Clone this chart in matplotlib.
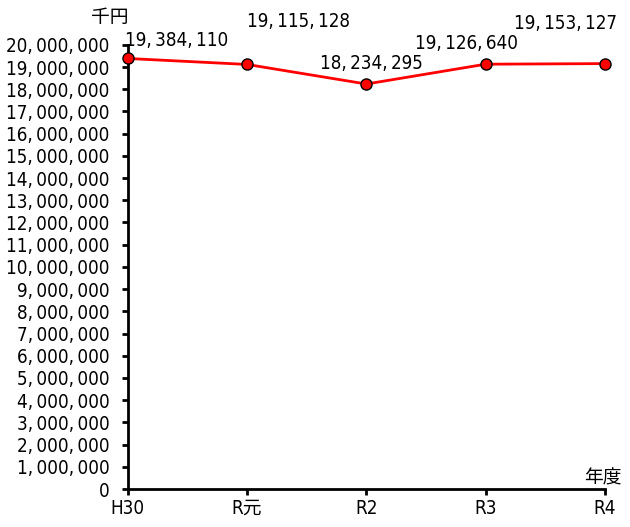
import matplotlib
matplotlib.use('Agg')
import matplotlib.pyplot as plt

plt.rcParams['font.family'] = ['DejaVu Sans', 'Noto Sans CJK JP']
plt.rcParams['font.stretch'] = 'condensed'

years = ['H30', 'R元', 'R2', 'R3', 'R4']
values = [19384110, 19115128, 18234295, 19126640, 19153127]
yticks = list(range(0, 20000001, 1000000))

# label offsets in points (x, y) relative to each marker
offsets = [(-2, 6), (37, 24), (4, 8), (-14, 8), (-28, 22)]

def fmt(v):
    return f'{v:,}'.replace(',', ',\u2009')

fig = plt.figure(figsize=(6.3, 5.27), dpi=100)
ax = fig.add_axes([0.203, 0.072, 0.757, 0.843])

x = list(range(len(years)))
ax.plot(x, values, color='#ff0000', lw=2, marker='o', markersize=8,
        markerfacecolor='#ff0000', markeredgecolor='black', markeredgewidth=1,
        clip_on=False, zorder=3)

for i, v in enumerate(values):
    ax.annotate(fmt(v), (x[i], v), xytext=offsets[i], textcoords='offset points',
                ha='left' if i == 0 else 'center', va='bottom', fontsize=13.5)

ax.set_xlim(0, 4)
ax.set_ylim(0, 20000000)
ax.set_xticks(x)
ax.set_xticklabels(years)
ax.set_yticks(yticks)
ax.set_yticklabels([fmt(t) for t in yticks])
ax.tick_params(axis='both', labelsize=13.5, width=2, length=4, direction='out')
ax.tick_params(axis='y', pad=9)
ax.tick_params(axis='x', pad=3)
for s in ['top', 'right']:
    ax.spines[s].set_visible(False)
for s in ['left', 'bottom']:
    ax.spines[s].set_linewidth(2)

fig.text(110 / 630, 1 - 17 / 527, '千円', ha='center', va='center', fontsize=13.5)
fig.text(622 / 630, 1 - 478 / 527, '年度', ha='right', va='center', fontsize=13.5)

fig.savefig('out.png', dpi=100)
